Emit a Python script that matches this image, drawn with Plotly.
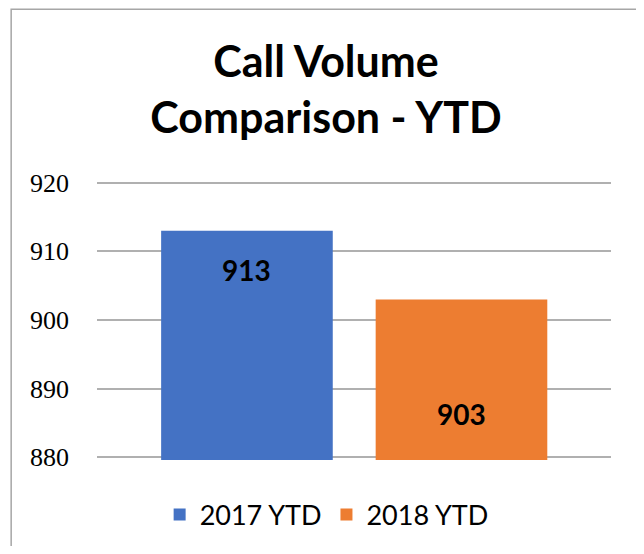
import plotly.graph_objects as go

# datos
series = ["2017 YTD", "2018 YTD"]
valores = [913, 903]
colores = ["#4472c4", "#ed7d31"]
y_ticks = [880, 890, 900, 910, 920]

# desplazamiento vertical (px) de cada etiqueta respecto al extremo de su barra
label_shift = [-39, -115]

fig = go.Figure()
for nombre, v, c in zip(series, valores, colores):
    fig.add_trace(go.Bar(
        x=[nombre], y=[v], name=nombre,
        marker=dict(color=c, line=dict(width=0)),
        width=0.8,
        hoverinfo="skip",
    ))

for nombre, v, dy in zip(series, valores, label_shift):
    fig.add_annotation(
        x=nombre, y=v, text=f"<b>{v}</b>", showarrow=False,
        yanchor="middle", yshift=dy,
        font=dict(family="Lato", size=28, color="#000000"),
    )

# marco del gráfico
fig.add_shape(
    type="rect", xref="paper", yref="paper",
    x0=-0.167, x1=1.052, y0=-0.40, y1=1.61,
    line=dict(color="#a6a6a6", width=1.5), layer="below",
)

fig.update_layout(
    width=636, height=538,
    barmode="overlay",
    paper_bgcolor="white", plot_bgcolor="white",
    margin=dict(l=89, r=33, t=172, b=86),
    title=dict(
        text="<b>Call Volume<br>Comparison - YTD</b>",
        x=0.5, xanchor="center", y=0.8717, yanchor="top",
        font=dict(family="Lato", size=43, color="#000000"),
    ),
    xaxis=dict(
        range=[-0.699, 1.697], showticklabels=False, showgrid=False,
        zeroline=False, showline=False, ticks="",
    ),
    yaxis=dict(
        range=[879.6, 920.4], tickvals=y_ticks, showgrid=True,
        gridcolor="#b0b0b0", gridwidth=1.5, zeroline=False, showline=False,
        ticklabelstandoff=27,
        tickfont=dict(family="Liberation Serif", size=26, color="#000000"),
    ),
    showlegend=True,
    legend=dict(
        orientation="h", xref="container", yref="container",
        x=0.501, xanchor="center", y=0.0576, yanchor="middle",
        font=dict(family="Lato", size=27, color="#000000"),
        itemwidth=30,
    ),
)

fig.write_html("out.html")
